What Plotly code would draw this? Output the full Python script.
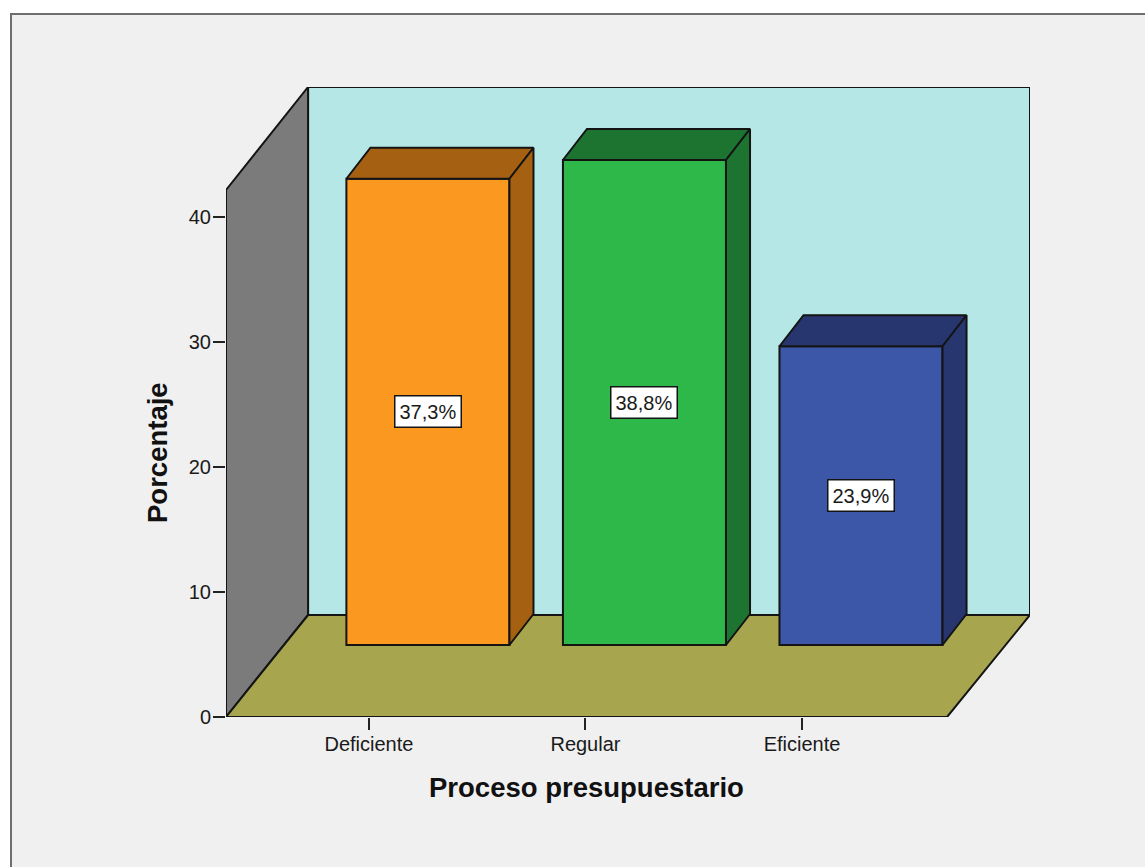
import plotly.graph_objects as go

categories = ["Deficiente", "Regular", "Eficiente"]
percentages = [37.3, 38.8, 23.9]
value_labels = ["37,3%", "38,8%", "23,9%"]
front_colors = ["#FB981F", "#2FB84A", "#3C56A8"]
shade_colors = ["#A66012", "#1D7431", "#27366F"]
y_ticks = [0, 10, 20, 30, 40]

# Box geometry, in axis units (categories on x, percent on y)
positions = [0, 1, 2]
x_left = -0.66
x_right = 3.053
y_max = 50.4
floor_width = 3.33
wall_height = 42.16
room_dx = 0.379
room_dy = 8.16
bar_shift_x = 0.2725
bar_base = 5.76
bar_width = 0.753
bar_dx = 0.111
bar_dy = 2.48

EDGE = "#141414"
BG = "#F0F0F0"
FONT = "Liberation Sans"


def polygon(points):
    return "M" + "L".join(f"{x},{y}" for x, y in points) + "Z"


def plane(points, fill):
    return dict(type="path", path=polygon(points), xref="x", yref="y", layer="below",
                fillcolor=fill, line=dict(color=EDGE, width=2))


fig = go.Figure()

# Front faces of the bars, standing on the floor of the box
fig.add_trace(go.Bar(
    x=[p + bar_shift_x for p in positions],
    y=percentages,
    base=bar_base,
    width=bar_width,
    marker=dict(color=front_colors, line=dict(color=EDGE, width=2)),
    cliponaxis=False,
    showlegend=False,
    hoverinfo="skip",
))

# Top and side faces derived from each bar's value
for p, v, shade in zip(positions, percentages, shade_colors):
    x0 = p + bar_shift_x - bar_width / 2
    x1 = p + bar_shift_x + bar_width / 2
    top = bar_base + v
    faces = [
        ([x0, x1, x1 + bar_dx, x0 + bar_dx, x0], [top, top, top + bar_dy, top + bar_dy, top]),
        ([x1, x1 + bar_dx, x1 + bar_dx, x1, x1],
         [top, top + bar_dy, bar_base + bar_dy, bar_base, top]),
    ]
    for xs, ys in faces:
        fig.add_trace(go.Scatter(
            x=xs, y=ys, mode="lines", fill="toself", fillcolor=shade,
            line=dict(color=EDGE, width=2), showlegend=False, hoverinfo="skip",
            cliponaxis=False,
        ))

back_left = x_left + room_dx
shapes = [
    # Figure panel with its thin frame
    dict(type="rect", xref="paper", yref="paper", layer="below",
         x0=(11 - 226) / 804, x1=(1160 - 226) / 804,
         y0=(717 - 880) / 630, y1=(717 - 14) / 630,
         fillcolor=BG, line=dict(color="#6E6E6E", width=2)),
    # Back wall, side wall and floor
    plane([(back_left, room_dy), (x_right, room_dy), (x_right, y_max), (back_left, y_max)], "#B5E7E7"),
    plane([(x_left, 0), (back_left, room_dy), (back_left, y_max), (x_left, wall_height)], "#7B7B7B"),
    plane([(x_left, 0), (x_left + floor_width, 0), (x_right, room_dy), (back_left, room_dy)], "#A7A64F"),
]

annotations = [
    dict(x=p + bar_shift_x, y=bar_base + v / 2, xref="x", yref="y", text=t, showarrow=False,
         xanchor="center", yanchor="middle",
         font=dict(family=FONT, size=20, color="#1A1A1A"),
         bgcolor="white", bordercolor=EDGE, borderwidth=1.5, borderpad=4)
    for p, v, t in zip(positions, percentages, value_labels)
]
annotations += [
    dict(text="Proceso presupuestario", xref="paper", yref="paper",
         x=(586 - 226) / 804, y=(717 - 787) / 630, showarrow=False,
         xanchor="center", yanchor="middle",
         font=dict(family=FONT, size=27.5, color="#111111", weight="bold")),
    dict(text="Porcentaje", xref="paper", yref="paper", textangle=-90,
         x=(158 - 226) / 804, y=(717 - 453) / 630, showarrow=False,
         xanchor="center", yanchor="middle",
         font=dict(family=FONT, size=27.5, color="#111111", weight="bold")),
]

fig.update_layout(
    width=1145, height=867,
    margin=dict(l=226, r=115, t=87, b=150, autoexpand=False),
    paper_bgcolor="white",
    plot_bgcolor="rgba(0,0,0,0)",
    shapes=shapes,
    annotations=annotations,
    xaxis=dict(
        range=[x_left, x_right], tickmode="array", tickvals=positions, ticktext=categories,
        ticks="outside", ticklen=12, tickwidth=1.5, tickcolor="#222222",
        ticklabelstandoff=-3,
        tickfont=dict(family=FONT, size=20, color="#1A1A1A"),
        showgrid=False, zeroline=False, showline=False,
    ),
    yaxis=dict(
        range=[0, y_max], tickmode="array", tickvals=y_ticks,
        ticks="outside", ticklen=12, tickwidth=1.5, tickcolor="#222222",
        ticklabelstandoff=-2,
        tickfont=dict(family=FONT, size=20, color="#1A1A1A"),
        showgrid=False, zeroline=False, showline=False,
    ),
)

fig.write_html("out.html", config={"displayModeBar": False})
